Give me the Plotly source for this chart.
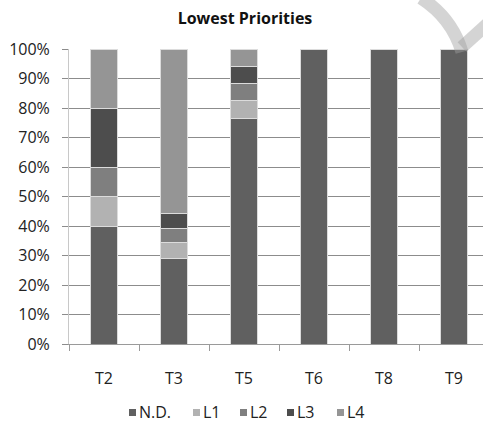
import plotly.graph_objects as go

# Share of responses per topic (percent), stacked from N.D. up to L4
categories = ["T2", "T3", "T5", "T6", "T8", "T9"]
nd = [40.0, 29.0, 76.5, 100.0, 100.0, 100.0]
l1 = [10.0, 5.3, 5.9, 0.0, 0.0, 0.0]
l2 = [10.0, 4.9, 5.9, 0.0, 0.0, 0.0]
l3 = [20.0, 4.9, 5.9, 0.0, 0.0, 0.0]
l4 = [20.0, 55.9, 5.8, 0.0, 0.0, 0.0]

series_names = ["N.D.", "L1", "L2", "L3", "L4"]
series_values = [nd, l1, l2, l3, l4]
series_colors = ["#606060", "#b2b2b2", "#7f7f7f", "#4d4d4d", "#959595"]

FONT = "Open Sans, Liberation Sans, sans-serif"
W, H = 483, 423
ML, MR, MT, MB = 69, 0, 49, 79
PW, PH = W - ML - MR, H - MT - MB


def px_x(px):
    """Pixel column -> paper x fraction."""
    return (px - ML) / PW


def px_y(py):
    """Pixel row -> paper y fraction."""
    return (H - MB - py) / PH


fig = go.Figure()
for name, vals, color in zip(series_names, series_values, series_colors):
    fig.add_trace(go.Bar(
        x=categories, y=vals, name=name,
        marker=dict(color=color, line=dict(color="#dcdcdc", width=1)),
        width=0.39, showlegend=False,
    ))

# Compact legend row under the chart: small square + label per series
legend_left = [129, 193, 240, 287, 337]
legend_row = 412
shapes = []
annotations = []
for left, name, color in zip(legend_left, series_names, series_colors):
    shapes.append(dict(type="rect", xref="paper", yref="paper",
                       x0=px_x(left), x1=px_x(left + 7),
                       y0=px_y(legend_row + 4), y1=px_y(legend_row - 3),
                       fillcolor=color, line=dict(width=0)))
    annotations.append(dict(text=name, xref="paper", yref="paper",
                            x=px_x(left + 8), y=px_y(legend_row),
                            xanchor="left", yanchor="middle", showarrow=False,
                            font=dict(size=16, family=FONT, color="#222222")))

# Faint corner emblem
emblem = dict(color="rgba(160,160,160,0.45)", width=13)
shapes.append(dict(type="path", xref="paper", yref="paper", layer="above",
                   path=(f"M {px_x(421)},{px_y(-2)} Q {px_x(452)},{px_y(18)} "
                         f"{px_x(462)},{px_y(52)}"),
                   line=emblem))
shapes.append(dict(type="path", xref="paper", yref="paper", layer="above",
                   path=f"M {px_x(462)},{px_y(47)} L {px_x(492)},{px_y(20)}",
                   line=emblem))

fig.update_layout(
    barmode="stack",
    width=W, height=H,
    margin=dict(l=ML, r=MR, t=MT, b=MB),
    paper_bgcolor="white", plot_bgcolor="white",
    font=dict(family=FONT, color="#222222"),
    showlegend=False,
    title=dict(text="<b>Lowest Priorities</b>", x=245 / W, xref="container",
               xanchor="center", y=1 - 18 / H, yref="container",
               yanchor="middle",
               font=dict(size=16, family=FONT, color="#111111")),
    shapes=shapes,
    annotations=annotations,
    xaxis=dict(range=[-0.5, 5.414], showline=True, linecolor="#9a9a9a",
               linewidth=1, ticks="outside", ticklen=6, tickcolor="#9a9a9a",
               tickson="boundaries", ticklabelstandoff=20,
               tickfont=dict(size=16, family=FONT), fixedrange=True),
    yaxis=dict(range=[0, 100], dtick=10, ticksuffix="%",
               showgrid=True, gridcolor="#8c8c8c", gridwidth=1,
               showline=True, linecolor="#c8c8c8", linewidth=1,
               ticks="outside", ticklen=6, tickcolor="#8c8c8c",
               ticklabelstandoff=9,
               tickfont=dict(size=16, family=FONT),
               zeroline=False),
)

fig.write_html("out.html")
